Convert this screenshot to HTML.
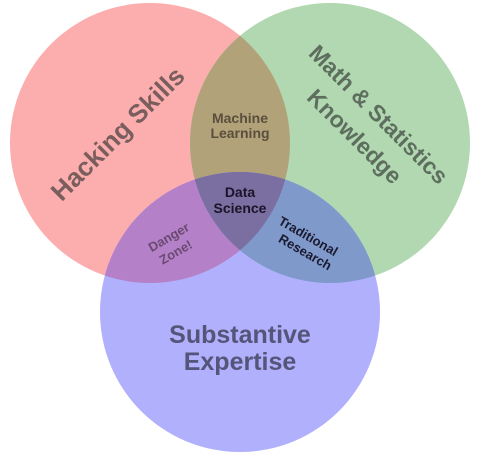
<!DOCTYPE html>
<html><head><style>html,body{margin:0;padding:0;background:#fff}svg{display:block}</style></head>
<body>
<svg width="482" height="462" viewBox="0 0 482 462" xmlns="http://www.w3.org/2000/svg" font-family="Liberation Sans, Arial, sans-serif" font-weight="bold">
<defs>
<clipPath id="r"><circle cx="150" cy="143" r="140"/></clipPath>
<clipPath id="g"><circle cx="330" cy="143" r="140"/></clipPath>
</defs>
<circle cx="150" cy="143" r="140" fill="#fcaeae"/>
<circle cx="330" cy="143" r="140" fill="#b1d8b1"/>
<circle cx="240" cy="312" r="140" fill="#b0b0fc"/>
<circle cx="330" cy="143" r="140" fill="#b2a27a" clip-path="url(#r)"/>
<circle cx="240" cy="312" r="140" fill="#b480c8" clip-path="url(#r)"/>
<circle cx="240" cy="312" r="140" fill="#7f99ca" clip-path="url(#g)"/>
<g clip-path="url(#r)"><circle cx="240" cy="312" r="140" fill="#7b6ea0" clip-path="url(#g)"/></g>
<text x="0" y="0" font-size="26" fill="#7a5e5e" text-anchor="middle" transform="translate(124,140) rotate(-45)">Hacking Skills</text>
<text font-size="23" fill="#5e6e5e" text-anchor="middle" transform="translate(373,120) rotate(45)">Math &amp; Statistics</text>
<text font-size="23" fill="#5e6e5e" text-anchor="middle" transform="translate(349,142) rotate(45)">Knowledge</text>
<text x="240" y="123" font-size="14" fill="#5a4f3c" text-anchor="middle">Machine</text>
<text x="240" y="138" font-size="14" fill="#5a4f3c" text-anchor="middle">Learning</text>
<text x="240" y="197" font-size="14" fill="#1a1428" text-anchor="middle">Data</text>
<text x="240" y="213" font-size="14" fill="#1a1428" text-anchor="middle">Science</text>
<text font-size="13" fill="#6a4a70" text-anchor="middle" transform="translate(171,241) rotate(-30)">Danger</text>
<text font-size="13" fill="#6a4a70" text-anchor="middle" transform="translate(178,256) rotate(-30)">Zone!</text>
<text font-size="13" fill="#1a1a30" text-anchor="middle" transform="translate(306,240) rotate(30)">Traditional</text>
<text font-size="13" fill="#1a1a30" text-anchor="middle" transform="translate(303,256) rotate(30)">Research</text>
<text x="240" y="343" font-size="25" fill="#55557a" text-anchor="middle">Substantive</text>
<text x="240" y="370" font-size="25" fill="#55557a" text-anchor="middle">Expertise</text>
</svg>
</body></html>
